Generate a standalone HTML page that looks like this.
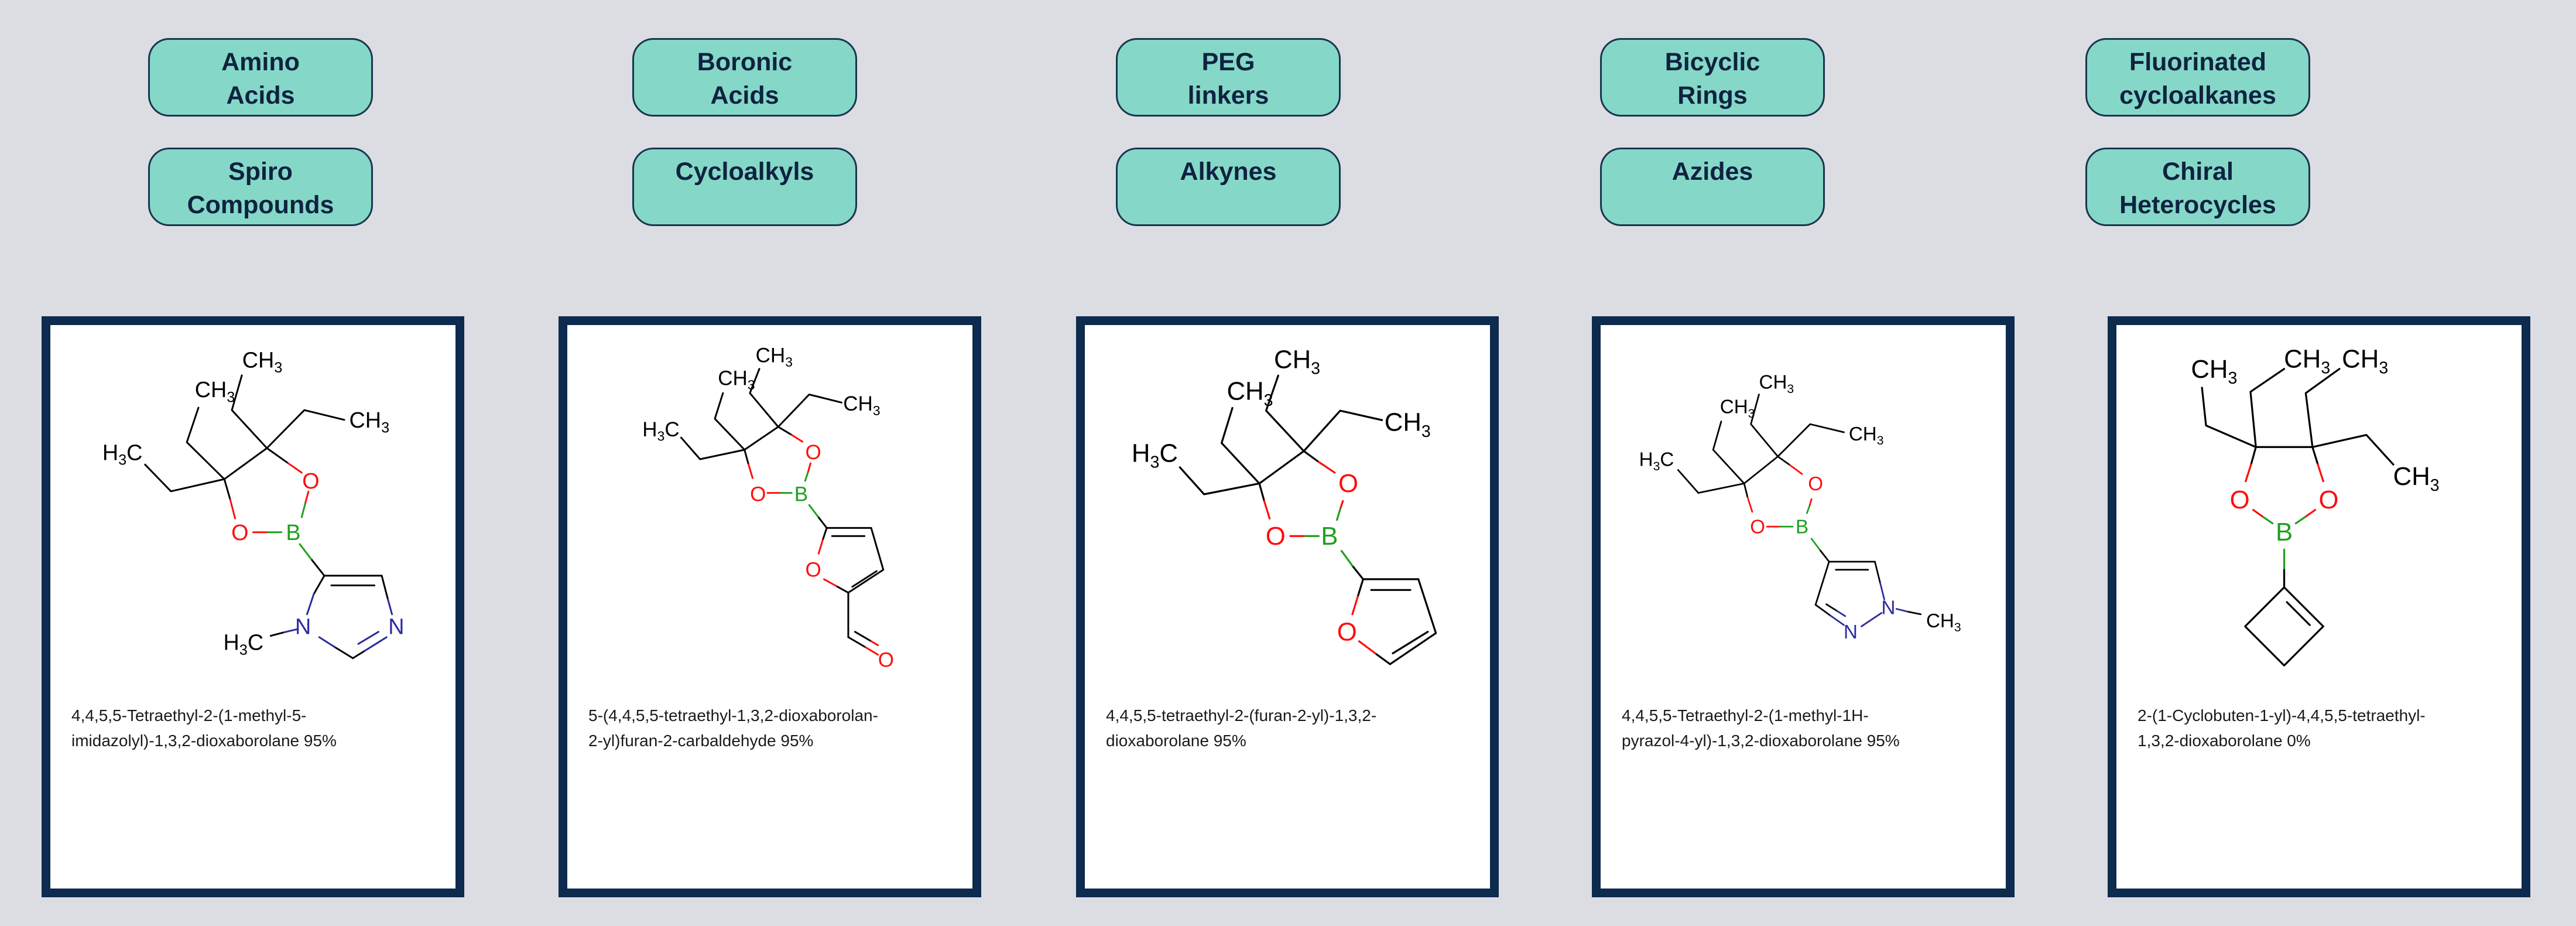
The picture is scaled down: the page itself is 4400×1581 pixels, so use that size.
<!DOCTYPE html>
<html><head><meta charset="utf-8"><style>
html,body{margin:0;padding:0}
body{width:4400px;height:1581px;background:#dcdde2;position:relative;overflow:hidden;font-family:"Liberation Sans",sans-serif}
.btn{position:absolute;width:378px;background:#85d8c7;border:3px solid #1a3550;border-radius:36px;color:#0f2240;font-weight:bold;font-size:43px;line-height:57px;text-align:center;box-sizing:content-box;padding-top:10px;height:118px}
.card{position:absolute;top:540px;width:692px;height:962px;background:#fff;border:15px solid #0d2a4f}
.cap{position:absolute;left:36px;top:645px;font-size:28px;line-height:43px;color:#1a1a1a;white-space:nowrap}
svg{position:absolute;left:0;top:0}
</style></head><body>
<div class="btn" style="left:253px;top:65px">Amino<br>Acids</div>
<div class="btn" style="left:253px;top:252px">Spiro<br>Compounds</div>
<div class="btn" style="left:1080px;top:65px">Boronic<br>Acids</div>
<div class="btn" style="left:1080px;top:252px">Cycloalkyls</div>
<div class="btn" style="left:1906px;top:65px">PEG<br>linkers</div>
<div class="btn" style="left:1906px;top:252px">Alkynes</div>
<div class="btn" style="left:2733px;top:65px">Bicyclic<br>Rings</div>
<div class="btn" style="left:2733px;top:252px">Azides</div>
<div class="btn" style="left:3562px;top:65px">Fluorinated<br>cycloalkanes</div>
<div class="btn" style="left:3562px;top:252px">Chiral<br>Heterocycles</div>

<div class="card" style="left:71px"><div class="cap">4,4,5,5-Tetraethyl-2-(1-methyl-5-<br>imidazolyl)-1,3,2-dioxaborolane 95%</div></div>
<div class="card" style="left:954px"><div class="cap">5-(4,4,5,5-tetraethyl-1,3,2-dioxaborolan-<br>2-yl)furan-2-carbaldehyde 95%</div></div>
<div class="card" style="left:1838px"><div class="cap">4,4,5,5-tetraethyl-2-(furan-2-yl)-1,3,2-<br>dioxaborolane 95%</div></div>
<div class="card" style="left:2719px"><div class="cap">4,4,5,5-Tetraethyl-2-(1-methyl-1H-<br>pyrazol-4-yl)-1,3,2-dioxaborolane 95%</div></div>
<div class="card" style="left:3600px"><div class="cap">2-(1-Cyclobuten-1-yl)-4,4,5,5-tetraethyl-<br>1,3,2-dioxaborolane 0%</div></div>

<svg width="4400" height="1581" viewBox="0 0 4400 1581" font-family="Liberation Sans, sans-serif" fill="none" stroke-linecap="round" stroke-linejoin="round">
<g transform="translate(71,540) scale(0.4604)" stroke-width="6.5">
 <g stroke="#000">
  <polyline points="678,604 836,489"/>
  <polyline points="678,604 480,649 384,550"/>
  <polyline points="678,604 539,467 582,339"/>
  <polyline points="836,489 706,348 743,219"/>
  <polyline points="836,489 975,348 1123,384"/>
  <line x1="678" y1="604" x2="700" y2="680"/>
  <line x1="836" y1="489" x2="915" y2="545"/>
  <line x1="1000" y1="900" x2="1049" y2="962"/>
  <line x1="1049" y1="962" x2="1262" y2="962"/>
  <line x1="1075" y1="998" x2="1235" y2="998"/>
  <line x1="1262" y1="962" x2="1285" y2="1050"/>
  <line x1="1155" y1="1268" x2="1200" y2="1240"/>
  <line x1="1155" y1="1268" x2="1085" y2="1225"/>
  <line x1="1010" y1="1030" x2="1049" y2="962"/>
  <line x1="900" y1="1172" x2="850" y2="1185"/>
 </g>
 <g stroke="#ff0d0d">
  <line x1="700" y1="680" x2="718" y2="750"/>
  <line x1="915" y1="545" x2="965" y2="580"/>
  <line x1="990" y1="650" x2="978" y2="695"/>
  <line x1="785" y1="801" x2="840" y2="801"/>
 </g>
 <g stroke="#1fa01f">
  <line x1="978" y1="695" x2="965" y2="745"/>
  <line x1="840" y1="801" x2="890" y2="801"/>
  <line x1="958" y1="845" x2="1000" y2="900"/>
 </g>
 <g stroke="#2a2aa0">
  <line x1="1285" y1="1050" x2="1300" y2="1105"/>
  <line x1="1200" y1="1240" x2="1280" y2="1190"/>
  <line x1="1175" y1="1215" x2="1250" y2="1170"/>
  <line x1="1085" y1="1225" x2="1030" y2="1190"/>
  <line x1="985" y1="1105" x2="1010" y2="1030"/>
  <line x1="950" y1="1160" x2="900" y2="1172"/>
 </g>
 <g stroke="none" font-size="82" text-anchor="middle">
  <text x="643" y="300" fill="#000">CH<tspan font-size="55" dy="18">3</tspan></text>
  <text x="819" y="190" fill="#000">CH<tspan font-size="55" dy="18">3</tspan></text>
  <text x="1216" y="413" fill="#000">CH<tspan font-size="55" dy="18">3</tspan></text>
  <text x="300" y="533" fill="#000">H<tspan font-size="55" dy="18">3</tspan><tspan dy="-18">C</tspan></text>
  <text x="749" y="1237" fill="#000">H<tspan font-size="55" dy="18">3</tspan><tspan dy="-18">C</tspan></text>
  <text x="999" y="639" fill="#ff0d0d">O</text>
  <text x="736" y="830" fill="#ff0d0d">O</text>
  <text x="934" y="830" fill="#1fa01f">B</text>
  <text x="1316" y="1178" fill="#2a2aa0">N</text>
  <text x="970" y="1178" fill="#2a2aa0">N</text>
 </g>
</g>

<g transform="translate(954,540) scale(0.4604)" stroke-width="6.5">
 <g stroke="#000">
  <polyline points="690,495 815,410"/>
  <polyline points="690,495 525,530 455,450"/>
  <polyline points="690,495 580,380 610,285"/>
  <polyline points="815,410 710,285 745,195"/>
  <polyline points="815,410 930,290 1050,320"/>
  <line x1="690" y1="495" x2="705" y2="550"/>
  <line x1="815" y1="410" x2="865" y2="440"/>
  <line x1="962" y1="742" x2="995" y2="785"/>
  <line x1="995" y1="785" x2="1160" y2="785"/>
  <line x1="1015" y1="815" x2="1135" y2="815"/>
  <polyline points="1160,785 1205,940 1075,1025"/>
  <line x1="1180" y1="945" x2="1090" y2="1003"/>
  <line x1="995" y1="785" x2="980" y2="830"/>
  <line x1="1075" y1="1025" x2="1030" y2="1000"/>
  <line x1="1075" y1="1025" x2="1075" y2="1190"/>
  <line x1="1075" y1="1190" x2="1140" y2="1228"/>
  <line x1="1100" y1="1170" x2="1160" y2="1205"/>
 </g>
 <g stroke="#ff0d0d">
  <line x1="705" y1="550" x2="720" y2="600"/>
  <line x1="865" y1="440" x2="905" y2="465"/>
  <line x1="935" y1="545" x2="925" y2="580"/>
  <line x1="775" y1="655" x2="825" y2="655"/>
  <line x1="980" y1="830" x2="965" y2="880"/>
  <line x1="1030" y1="1000" x2="985" y2="975"/>
  <line x1="1140" y1="1228" x2="1185" y2="1255"/>
  <line x1="1160" y1="1205" x2="1185" y2="1220"/>
 </g>
 <g stroke="#1fa01f">
  <line x1="925" y1="580" x2="915" y2="610"/>
  <line x1="825" y1="655" x2="865" y2="655"/>
  <line x1="930" y1="700" x2="962" y2="742"/>
 </g>
 <g stroke="none" font-size="76" text-anchor="middle">
  <text x="660" y="255" fill="#000">CH<tspan font-size="50" dy="17">3</tspan></text>
  <text x="800" y="170" fill="#000">CH<tspan font-size="50" dy="17">3</tspan></text>
  <text x="1125" y="350" fill="#000">CH<tspan font-size="50" dy="17">3</tspan></text>
  <text x="380" y="445" fill="#000">H<tspan font-size="50" dy="17">3</tspan><tspan dy="-17">C</tspan></text>
  <text x="945" y="530" fill="#ff0d0d">O</text>
  <text x="740" y="685" fill="#ff0d0d">O</text>
  <text x="900" y="685" fill="#1fa01f">B</text>
  <text x="945" y="965" fill="#ff0d0d">O</text>
  <text x="1215" y="1300" fill="#ff0d0d">O</text>
 </g>
</g>

<g transform="translate(1838,540) scale(0.4604)" stroke-width="7">
 <g stroke="#000">
  <polyline points="680,620 845,500"/>
  <polyline points="680,620 475,660 385,560"/>
  <polyline points="680,620 540,470 580,340"/>
  <polyline points="845,500 705,350 750,220"/>
  <polyline points="845,500 980,350 1135,385"/>
  <line x1="680" y1="620" x2="698" y2="685"/>
  <line x1="845" y1="500" x2="900" y2="540"/>
  <line x1="1025" y1="925" x2="1065" y2="975"/>
  <line x1="1065" y1="975" x2="1270" y2="975"/>
  <line x1="1095" y1="1015" x2="1240" y2="1015"/>
  <polyline points="1270,975 1335,1175 1165,1290"/>
  <line x1="1305" y1="1170" x2="1175" y2="1250"/>
  <line x1="1065" y1="975" x2="1045" y2="1040"/>
  <line x1="1165" y1="1290" x2="1110" y2="1250"/>
 </g>
 <g stroke="#ff0d0d">
  <line x1="698" y1="685" x2="718" y2="750"/>
  <line x1="900" y1="540" x2="960" y2="580"/>
  <line x1="990" y1="685" x2="980" y2="715"/>
  <line x1="795" y1="815" x2="850" y2="815"/>
  <line x1="1045" y1="1040" x2="1025" y2="1105"/>
  <line x1="1110" y1="1250" x2="1050" y2="1205"/>
 </g>
 <g stroke="#1fa01f">
  <line x1="980" y1="715" x2="968" y2="755"/>
  <line x1="850" y1="815" x2="900" y2="815"/>
  <line x1="985" y1="870" x2="1025" y2="925"/>
 </g>
 <g stroke="none" font-size="95" text-anchor="middle">
  <text x="645" y="310" fill="#000">CH<tspan font-size="62" dy="22">3</tspan></text>
  <text x="820" y="192" fill="#000">CH<tspan font-size="62" dy="22">3</tspan></text>
  <text x="1230" y="425" fill="#000">CH<tspan font-size="62" dy="22">3</tspan></text>
  <text x="292" y="540" fill="#000">H<tspan font-size="62" dy="22">3</tspan><tspan dy="-22">C</tspan></text>
  <text x="1010" y="652" fill="#ff0d0d">O</text>
  <text x="740" y="847" fill="#ff0d0d">O</text>
  <text x="940" y="847" fill="#1fa01f">B</text>
  <text x="1005" y="1202" fill="#ff0d0d">O</text>
 </g>
</g>

<g transform="translate(2719,540) scale(0.4604)" stroke-width="6">
 <g stroke="#000">
  <polyline points="565,620 690,520"/>
  <polyline points="565,620 395,655 320,570"/>
  <polyline points="565,620 450,495 480,390"/>
  <polyline points="690,520 590,400 620,290"/>
  <polyline points="690,520 810,400 935,430"/>
  <line x1="565" y1="620" x2="578" y2="672"/>
  <line x1="690" y1="520" x2="735" y2="552"/>
  <line x1="845" y1="865" x2="880" y2="910"/>
  <line x1="880" y1="910" x2="1050" y2="910"/>
  <line x1="905" y1="940" x2="1025" y2="940"/>
  <line x1="1050" y1="910" x2="1070" y2="990"/>
  <line x1="880" y1="910" x2="830" y2="1070"/>
  <line x1="830" y1="1070" x2="885" y2="1110"/>
  <line x1="870" y1="1068" x2="910" y2="1093"/>
  <line x1="1170" y1="1095" x2="1220" y2="1105"/>
 </g>
 <g stroke="#ff0d0d">
  <line x1="578" y1="672" x2="595" y2="725"/>
  <line x1="735" y1="552" x2="780" y2="585"/>
  <line x1="815" y1="678" x2="807" y2="705"/>
  <line x1="650" y1="780" x2="700" y2="780"/>
 </g>
 <g stroke="#1fa01f">
  <line x1="807" y1="705" x2="798" y2="730"/>
  <line x1="700" y1="780" x2="745" y2="780"/>
  <line x1="815" y1="825" x2="845" y2="865"/>
 </g>
 <g stroke="#2a2aa0">
  <line x1="1070" y1="990" x2="1085" y2="1050"/>
  <line x1="885" y1="1110" x2="935" y2="1145"/>
  <line x1="910" y1="1093" x2="940" y2="1112"/>
  <line x1="1075" y1="1100" x2="1000" y2="1150"/>
  <line x1="1130" y1="1085" x2="1170" y2="1095"/>
 </g>
 <g stroke="none" font-size="72" text-anchor="middle">
  <text x="540" y="360" fill="#000">CH<tspan font-size="46" dy="16">3</tspan></text>
  <text x="685" y="268" fill="#000">CH<tspan font-size="46" dy="16">3</tspan></text>
  <text x="1018" y="460" fill="#000">CH<tspan font-size="46" dy="16">3</tspan></text>
  <text x="1305" y="1153" fill="#000">CH<tspan font-size="46" dy="16">3</tspan></text>
  <text x="240" y="555" fill="#000">H<tspan font-size="46" dy="16">3</tspan><tspan dy="-16">C</tspan></text>
  <text x="830" y="645" fill="#ff0d0d">O</text>
  <text x="615" y="805" fill="#ff0d0d">O</text>
  <text x="780" y="805" fill="#1fa01f">B</text>
  <text x="1100" y="1105" fill="#2a2aa0">N</text>
  <text x="960" y="1195" fill="#2a2aa0">N</text>
 </g>
</g>

<g transform="translate(3600,540) scale(0.4604)" stroke-width="7">
 <g stroke="#000">
  <line x1="550" y1="485" x2="760" y2="485"/>
  <polyline points="550,485 365,405 350,265"/>
  <polyline points="550,485 530,280 655,195"/>
  <polyline points="760,485 735,285 860,195"/>
  <polyline points="760,485 960,440 1060,550"/>
  <line x1="550" y1="485" x2="532" y2="550"/>
  <line x1="760" y1="485" x2="780" y2="550"/>
  <line x1="655" y1="935" x2="655" y2="1005"/>
  <polygon points="655,1005 800,1150 655,1295 510,1150"/>
  <line x1="665" y1="1060" x2="750" y2="1145"/>
 </g>
 <g stroke="#ff0d0d">
  <line x1="532" y1="550" x2="512" y2="612"/>
  <line x1="780" y1="550" x2="800" y2="612"/>
  <line x1="540" y1="718" x2="578" y2="745"/>
  <line x1="770" y1="718" x2="732" y2="745"/>
 </g>
 <g stroke="#1fa01f">
  <line x1="578" y1="745" x2="612" y2="768"/>
  <line x1="732" y1="745" x2="698" y2="768"/>
  <line x1="655" y1="865" x2="655" y2="935"/>
 </g>
 <g stroke="none" font-size="95" text-anchor="middle">
  <text x="395" y="228" fill="#000">CH<tspan font-size="62" dy="22">3</tspan></text>
  <text x="740" y="190" fill="#000">CH<tspan font-size="62" dy="22">3</tspan></text>
  <text x="955" y="190" fill="#000">CH<tspan font-size="62" dy="22">3</tspan></text>
  <text x="1145" y="625" fill="#000">CH<tspan font-size="62" dy="22">3</tspan></text>
  <text x="490" y="712" fill="#ff0d0d">O</text>
  <text x="820" y="712" fill="#ff0d0d">O</text>
  <text x="655" y="832" fill="#1fa01f">B</text>
 </g>
</g>
</svg>
</body></html>
